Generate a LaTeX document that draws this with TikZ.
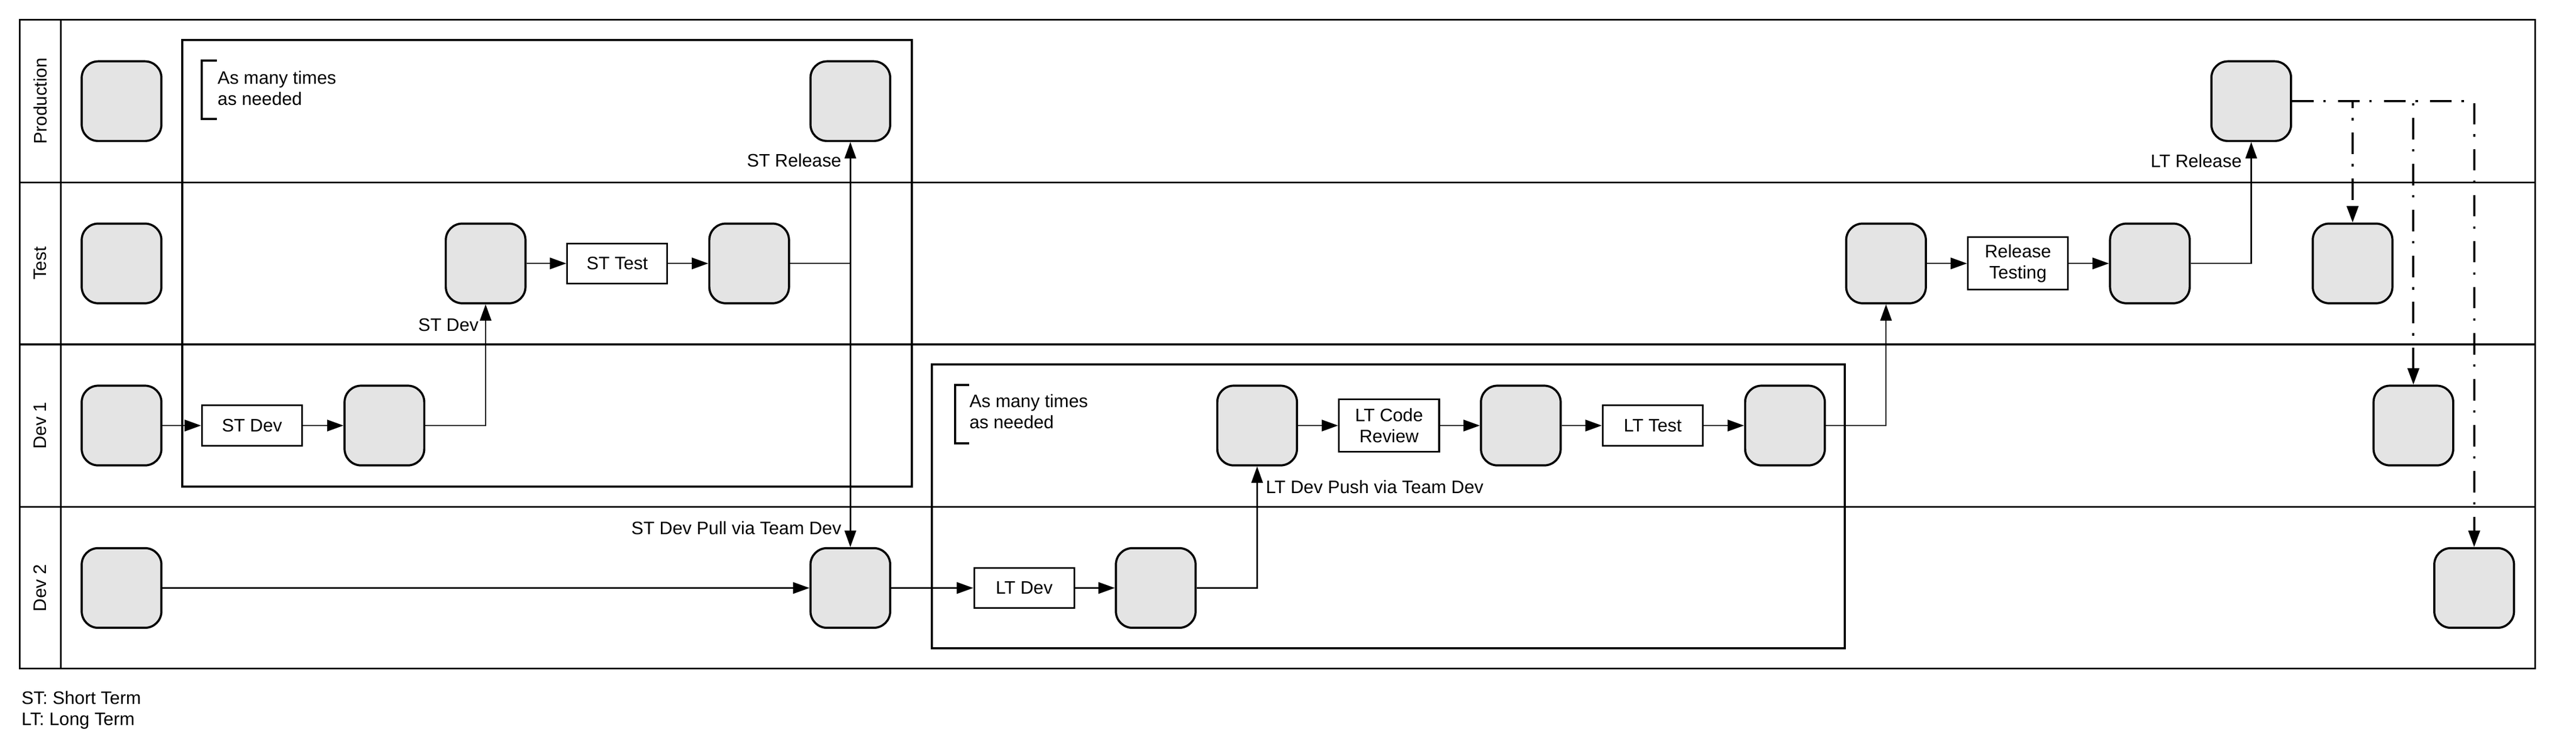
\documentclass[tikz,border=0pt]{standalone}
\usepackage{fontspec}
\setmainfont{Liberation Sans}
\usepackage{tikz}
\usetikzlibrary{arrows.meta}
\definecolor{stategray}{HTML}{E4E4E4}

\begin{document}
\begin{tikzpicture}[x=1pt,y=-1pt,
      every node/.style={font=\fontsize{11}{13}\selectfont},
      state/.style={draw,line width=1.3pt,fill=stategray,rounded corners=10pt,
        minimum width=48.5pt,minimum height=48.5pt,inner sep=0pt},
      task/.style={draw,line width=1pt,fill=white,minimum width=61pt,
        minimum height=24.5pt,inner sep=2pt,align=center},
      lane/.style={rotate=90},
      lbl/.style={inner sep=0pt},
      group/.style={line width=1.3pt},
      flow/.style={line width=0.8pt,-{Triangle[length=10pt,width=7pt]}},
      relflow/.style={flow,line width=1.3pt,dash pattern=on 13pt off 6pt on 1.5pt off 7.5pt}]
      \useasboundingbox (0,0) rectangle (1568,457);
      % lanes
      \draw[line width=1pt] (12,12) rectangle (1543,407);
      \draw[line width=1pt] (37,12) -- (37,407);
      \draw[line width=1pt] (12,111) -- (1543,111);
      \draw[line width=1pt] (12,209.7) -- (1543,209.7);
      \draw[line width=1pt] (12,308.5) -- (1543,308.5);
      \node[lane] (laneP) at (24.5,61.6) {Production};
      \node[lane] (laneT) at (24.5,160.4) {Test};
      \node[lane] (laneA) at (24.5,259.1) {Dev 1};
      \node[lane] (laneB) at (24.5,358) {Dev 2};
      % repeat groups
      \draw[group] (111,24.5) rectangle (555,296.2);
      \draw[group] (567.2,222) rectangle (1123,394.8);
      \draw[line width=1.3pt] (132,36.9) -| (122.8,72.4) -- (132,72.4);
      \draw[line width=1.3pt] (590,234.3) -| (581.3,269.8) -- (590,269.8);
      \node[lbl,anchor=north west,align=left] (stMany) at (132.3,43) {As many times\\as needed};
      \node[lbl,anchor=north west,align=left] (ltMany) at (589.9,239.8) {As many times\\as needed};

      \node[state] (P0) at (74,61.6) {};
      \node[state] (STrel) at (517.6,61.6) {};
      \node[state] (LTrel) at (1370.3,61.6) {};

      \node[state] (T0) at (74,160.4) {};
      \node[state] (T1) at (295.6,160.4) {};
      \node[task] (STtest) at (375.7,160.4) {ST Test};
      \node[state] (T2) at (456,160.4) {};
      \node[state] (T3) at (1148,160.4) {};
      \node[task,minimum height=32pt] (RTest) at (1228.3,160.4) {Release\\Testing};
      \node[state] (T4) at (1308.6,160.4) {};
      \node[state] (T5) at (1432,160.4) {};

      \node[state] (A0) at (74,259.1) {};
      \node[task] (STdev) at (153.4,259.1) {ST Dev};
      \node[state] (A1) at (234,259.1) {};
      \node[state] (L1) at (765.2,259.1) {};
      \node[task,minimum height=32pt] (LTcr) at (845.5,259.1) {LT Code\\Review};
      \node[state] (L2) at (925.7,259.1) {};
      \node[task] (LTtest) at (1006,259.1) {LT Test};
      \node[state] (L3) at (1086.5,259.1) {};
      \node[state] (A5) at (1469,259.1) {};

      \node[state] (B0) at (74,358) {};
      \node[state] (B1) at (517.6,358) {};
      \node[task] (LTdev) at (623.4,358) {LT Dev};
      \node[state] (B2) at (703.5,358) {};
      \node[state] (B3) at (1506,358) {};

      \draw[flow] (A0) -- (STdev);
      \draw[flow] (STdev) -- (A1);
      \draw[flow] (A1) -| (T1);
      \draw[flow] (T1) -- (STtest);
      \draw[flow] (STtest) -- (T2);
      \draw[flow] (T2) -| (STrel);
      \draw[flow] (T2) -| (B1);
      \draw[flow] (B0) -- (B1);
      \draw[flow] (B1) -- (LTdev);
      \draw[flow] (LTdev) -- (B2);
      \draw[flow] (B2) -| (L1);
      \draw[flow] (L1) -- (LTcr);
      \draw[flow] (LTcr) -- (L2);
      \draw[flow] (L2) -- (LTtest);
      \draw[flow] (LTtest) -- (L3);
      \draw[flow] (L3) -| (T3);
      \draw[flow] (T3) -- (RTest);
      \draw[flow] (RTest) -- (T4);
      \draw[flow] (T4) -| (LTrel);
      \draw[relflow] (LTrel) -| (T5);
      \draw[relflow] (LTrel) -| (A5);
      \draw[relflow] (LTrel) -| (B3);

      \node[lbl,anchor=base east] (stDevLbl) at (291.5,201.5) {ST Dev};
      \node[lbl,anchor=base east] (stRelLbl) at (512.3,101.7) {ST Release};
      \node[lbl,anchor=base east] (stPullLbl) at (512.3,325.5) {ST Dev Pull via Team Dev};
      \node[lbl,anchor=base west] (ltPushLbl) at (770.3,300.5) {LT Dev Push via Team Dev};
      \node[lbl,anchor=base east] (ltRelLbl) at (1364.7,102) {LT Release};
      \node[lbl,anchor=north west,align=left] (legend) at (12.9,420.5) {ST: Short Term\\LT: Long Term};
    \end{tikzpicture}
\end{document}
